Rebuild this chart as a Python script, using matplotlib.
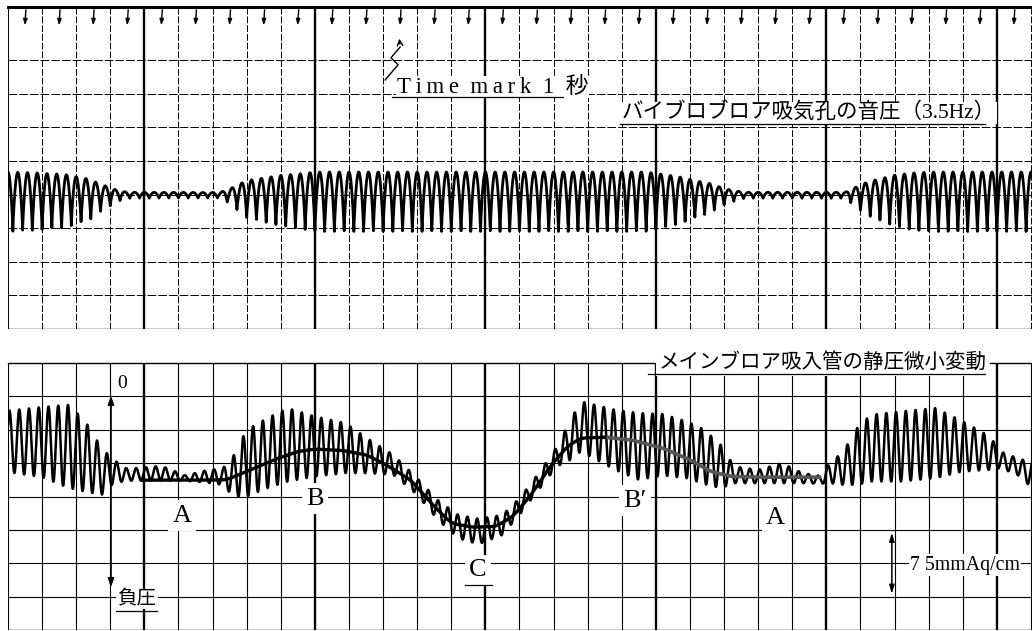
import numpy as np
import matplotlib
matplotlib.use("Agg")
import matplotlib.pyplot as plt

plt.rcParams['font.family'] = ['Liberation Serif', 'Noto Sans CJK JP']

# ---------------------------
# Data (time in seconds = grid columns, level in grid rows)
# ---------------------------
FREQ = 3.5          # blower pulsation, Hz
T_END = 30.03       # visible record length, s

# upper trace: vibro-blower suction sound pressure, envelope
top_t = [0.0, 0.7, 1.3, 1.6, 1.8, 2.1, 2.4, 2.7, 2.93, 3.2, 3.5, 6.2, 6.42, 6.6,
         7.0, 7.6, 8.06, 8.56, 9.0, 18.68, 18.97, 19.38, 19.77, 20.15, 20.56,
         20.85, 21.14, 21.6, 24.55, 24.96, 25.28, 25.54, 26.0, 26.5, 27.0, 30.1]
top_amp = [1.0, 0.97, 0.92, 0.9, 0.86, 0.76, 0.68, 0.46, 0.35, 0.19, 0.1, 0.09,
           0.2, 0.32, 0.62, 0.76, 0.86, 0.92, 1.0, 1.0, 0.95, 0.86, 0.76, 0.62,
           0.5, 0.35, 0.22, 0.1, 0.1, 0.4, 0.6, 0.68, 0.86, 0.95, 1.0, 1.0]
top_level = 4.0

# lower trace: main blower suction static pressure (raw record)
bot_t = [0.0, 1.0, 1.8, 2.3, 2.75, 3.1, 3.5, 4.5, 5.2, 5.8, 6.3, 6.6, 7.0, 7.6,
         8.2, 9.0, 9.9, 10.6, 11.3, 12.0, 12.6, 13.2, 13.8, 14.5, 15.0, 15.6,
         16.1, 16.5, 16.8, 17.8, 18.5, 19.2, 19.9, 20.4, 20.9, 21.3, 22.0, 22.7,
         23.3, 23.8, 24.1, 24.5, 24.9, 25.3, 26.2, 27.2, 28.0, 28.8, 29.1, 29.6,
         30.1]
bot_mean = [5.65, 5.63, 5.5, 5.17, 4.75, 4.75, 4.65, 4.7, 4.55, 4.6, 4.6, 4.6,
            5.0, 5.3, 5.55, 5.5, 5.45, 5.2, 4.95, 4.3, 3.6, 3.1, 2.95, 3.15,
            3.7, 4.5, 5.2, 5.7, 6.1, 5.7, 5.5, 5.55, 5.4, 5.2, 4.9, 4.65, 4.6,
            4.7, 4.55, 4.5, 4.7, 4.85, 5.2, 5.45, 5.5, 5.6, 5.5, 5.3, 5.1, 4.9,
            4.6]
bot_amp = [0.92, 1.05, 1.25, 1.03, 0.7, 0.35, 0.18, 0.22, 0.08, 0.18, 0.25,
           0.6, 1.0, 1.05, 1.1, 0.9, 0.75, 0.5, 0.3, 0.25, 0.3, 0.35, 0.38,
           0.3, 0.25, 0.25, 0.3, 0.6, 0.75, 0.9, 1.0, 0.92, 0.85, 0.82, 0.65,
           0.25, 0.2, 0.3, 0.15, 0.12, 0.3, 0.5, 0.85, 1.0, 1.05, 1.05, 0.75,
           0.5, 0.25, 0.25, 0.4]

# lower trace: faired mean curve A - B - C - B' - A
mean_t = [3.95, 5.5, 6.4, 7.0, 7.8, 8.5, 9.0, 9.8, 10.5, 11.0, 11.8, 12.5, 13.0,
          13.6, 14.3, 14.8, 15.3, 15.9, 16.4, 16.8, 17.5, 18.3, 19.2, 20.0,
          20.6, 21.2, 22.0, 23.8]
mean_level = [4.49, 4.49, 4.5, 4.75, 5.1, 5.35, 5.42, 5.38, 5.25, 5.0, 4.5, 3.7,
              3.2, 3.08, 3.1, 3.4, 4.0, 4.9, 5.5, 5.75, 5.78, 5.69, 5.45, 5.1,
              4.75, 4.6, 4.58, 4.58]

# labels on the lower record: (text, t, level)
point_labels = [("A", 5.1, 3.43), ("B", 9.0, 3.94), ("C", 13.78, 1.79),
                ("B\u2032", 18.39, 3.88), ("A", 22.5, 3.37)]

W, H = 1032, 631
fig = plt.figure(figsize=(W / 100, H / 100), dpi=100)
fig.patch.set_facecolor("white")

ax_top = fig.add_axes([8 / W, (H - 329) / H, 1 - 8 / W, 322 / H])
ax_bot = fig.add_axes([8 / W, (H - 630) / H, 1 - 8 / W, 267 / H])

TOP_MAX = 9.58
ax_top.set_ylim(0, TOP_MAX)
ax_bot.set_ylim(0, 8)
for ax in (ax_top, ax_bot):
    ax.set_xlim(0, T_END)
    ax.axis("off")

# grid paper
for k in range(0, 31):
    thick = (k % 5 == 4)
    ax_top.axvline(k, color="black", lw=1.7 if thick else 0.7,
                   ls="-" if thick or k == 0 else (0, (7, 2)), zorder=1)
    ax_bot.axvline(k, color="black", lw=1.7 if thick else 0.8, zorder=1)
for g in range(1, 9):
    ax_top.axhline(g, color="black", lw=0.7, ls=(0, (9, 2)), zorder=1)
for g in range(1, 8):
    ax_bot.axhline(g, color="black", lw=0.8, zorder=1)
ax_top.axhline(0, color="black", lw=1.0, zorder=1)
ax_top.axhline(TOP_MAX, color="black", lw=2.2, zorder=1, clip_on=False)
ax_bot.axhline(0, color="black", lw=1.0, zorder=1)
ax_bot.axhline(8, color="black", lw=1.0, zorder=1, clip_on=False)

# time marks, 1 s apart
for k in range(30):
    tm = 0.53 + k
    ax_top.annotate("", xy=(tm - 0.04, 8.95), xytext=(tm, TOP_MAX),
                    arrowprops=dict(arrowstyle="-|>,head_length=0.35,head_width=0.12",
                                    color="black", lw=1.0), zorder=3)

# upper trace
t = np.linspace(0, T_END, 24000)
phase = 2 * np.pi * FREQ * t
amp_top = np.interp(t, top_t, top_amp)
wave_top = 0.67 - 1.78 * (1 - np.abs(np.cos(phase / 2)) ** 0.8)
ax_top.plot(t, top_level + amp_top * wave_top, color="black", lw=2.0, zorder=4)

# lower raw trace
amp_bot = np.interp(t, bot_t, bot_amp)
lvl_bot = np.interp(t, bot_t, bot_mean)
ax_bot.plot(t, lvl_bot + amp_bot * np.sin(phase + 0.6), color="black",
            lw=1.8, zorder=4)

# faired mean curve
tm_fine = np.linspace(mean_t[0], mean_t[-1], 4000)
lv = np.interp(tm_fine, mean_t, mean_level)
kern = np.ones(60) / 60
lv_s = np.convolve(np.pad(lv, 30, mode="edge"), kern, mode="same")[30:-30]
split = tm_fine < 17.6
ax_bot.plot(tm_fine[split], lv_s[split], color="black", lw=2.4, zorder=5)
ax_bot.plot(tm_fine[~split], lv_s[~split], color="#555555", lw=2.6, zorder=5)

# annotations, upper panel
zig_t = [11.06, 11.44, 11.23, 11.5]
zig_g = [7.41, 7.86, 8.07, 8.39]
ax_top.plot(zig_t, zig_g, color="black", lw=1.0, zorder=6)
ax_top.annotate("", xy=(11.47, 8.72), xytext=(11.5, 8.39),
                arrowprops=dict(arrowstyle="->", color="black", lw=1.0))
ts = "\u2009"
time_label = ts.join("Time") + "  " + ts.join("mark") + "  1  秒"
ax_top.text(11.4, 7.2, time_label, fontsize=16.5, va="center", ha="left",
            zorder=7, bbox=dict(facecolor="white", edgecolor="none", pad=0.5))
ax_top.plot([11.26, 16.28], [6.9, 6.9], color="black", lw=0.9, zorder=8)
ax_top.text(18.0, 6.43, "バイブロブロア吸気孔の音圧（3.5Hz）", fontsize=15.5,
            va="center", ha="left", zorder=7,
            bbox=dict(facecolor="white", edgecolor="none", pad=0.5))
ax_top.plot([17.95, 28.65], [6.1, 6.1], color="black", lw=0.9, zorder=8)

# annotations, lower panel
ax_bot.text(19.09, 8.0, "メインブロア吸入管の静圧微小変動", fontsize=14.8,
            va="center", ha="left", zorder=7, clip_on=False,
            bbox=dict(facecolor="white", edgecolor="none", pad=2))
ax_bot.plot([18.77, 28.65], [7.67, 7.67], color="black", lw=0.9, zorder=8)

ax_bot.annotate("", xy=(3.02, 7.1), xytext=(3.02, 1.2),
                arrowprops=dict(arrowstyle="<|-|>,head_length=0.5,head_width=0.18",
                                color="black", lw=1.2))
ax_bot.text(3.34, 7.4, "0", fontsize=14, va="center", ha="center", zorder=7)
ax_bot.text(3.78, 0.93, "負圧", fontsize=14, va="center", ha="center",
            zorder=7, bbox=dict(facecolor="white", edgecolor="none", pad=1))
ax_bot.plot([3.17, 4.37], [0.57, 0.57], color="black", lw=0.9, zorder=8)

for txt, lt, lg in point_labels:
    ax_bot.text(lt, lg, txt, fontsize=19, va="center", ha="center", zorder=7,
                bbox=dict(facecolor="white", edgecolor="none", pad=3))
ax_bot.plot([13.4, 14.2], [1.34, 1.34], color="black", lw=0.9, zorder=8)

ax_bot.annotate("", xy=(25.92, 3.0), xytext=(25.92, 1.0),
                arrowprops=dict(arrowstyle="<|-|>,head_length=0.5,head_width=0.15",
                                color="black", lw=1.1))
ax_bot.text(26.45, 1.94, "7 5mmAq/cm", fontsize=14.3, va="center", ha="left",
            zorder=7, clip_on=False,
            bbox=dict(facecolor="white", edgecolor="none", pad=1))

fig.savefig("out.png", dpi=100, facecolor="white")
